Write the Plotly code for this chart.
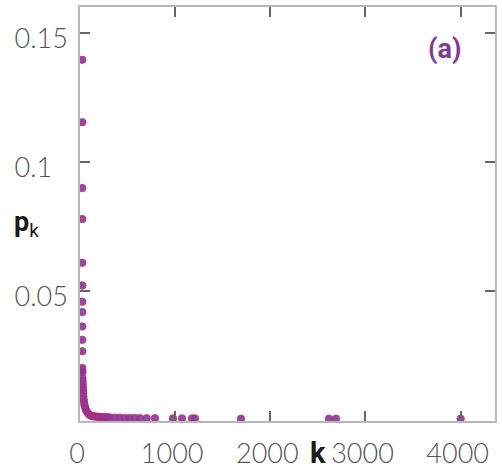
import plotly.graph_objects as go

# degree k and probability p_k
k_vals = [24, 24, 24, 24, 24, 24, 24, 24, 24, 24, 24,
          24, 24, 25, 26, 27, 28, 30, 32, 33, 35, 38, 42, 48, 56, 66, 80, 95,
          112, 130, 148, 166, 184, 202, 220, 238, 256, 274, 292,
          315, 368, 420, 473, 525, 578, 630, 701, 788,
          977, 1072, 1177, 1208, 1692, 2616, 2690, 4000]
p_vals = [0.1396, 0.1154, 0.0898, 0.0778, 0.0608, 0.0520, 0.0457, 0.0417, 0.0361, 0.0309, 0.0265,
          0.0200, 0.0191, 0.0183, 0.0160, 0.0148, 0.0137, 0.0125, 0.0113, 0.0102, 0.0090, 0.0078,
          0.0067, 0.0055, 0.0044, 0.0034, 0.0026, 0.0019,
          0.0015, 0.0013, 0.0012, 0.0011, 0.0010, 0.0010, 0.0009, 0.0009, 0.0009, 0.0008, 0.0008,
          0.0008, 0.0007, 0.0007, 0.0006, 0.0006, 0.0006, 0.0005, 0.0005, 0.0005,
          0.0004, 0.0004, 0.0004, 0.0004, 0.0003, 0.0003, 0.0003, 0.0003]

x_tickvals = [0, 1000, 2000, 3000, 4000]
x_ticktext = ["0", "1000", "2000", "3000", "4000"]
y_tickvals = [0.05, 0.1, 0.15]
y_ticktext = ["0.05", "0.1\u2007", "0.15"]

x_range = [0, 4361]
y_range = [-0.0006, 0.1601]

purple = "#7f3c97"
tick_font = dict(family="Lato", size=27, color="#555555", weight=300)

fig = go.Figure()
fig.add_trace(go.Scatter(
    x=k_vals, y=p_vals, mode="markers",
    marker=dict(size=7.5, color="#893c9b", opacity=0.92,
                line=dict(color="#c0246e", width=0.8)),
    showlegend=False, hoverinfo="x+y",
))

axis_common = dict(
    showline=True, linecolor="#b8b8b8", linewidth=1.5, mirror="allticks",
    ticks="inside", ticklen=10, tickwidth=1.5, tickcolor="#666666",
    showgrid=False, zeroline=False, tickfont=tick_font, automargin=False,
)

fig.update_xaxes(range=x_range, tickvals=x_tickvals, ticktext=x_ticktext,
                 ticklabelstandoff=8, ticklabelshift=-3, **axis_common)
fig.update_yaxes(range=y_range, tickvals=y_tickvals, ticktext=y_ticktext,
                 ticklabelstandoff=5, ticklabelshift=6, **axis_common)

fig.add_annotation(text="<b>k</b>", xref="paper", yref="paper",
                   x=(318 - 80) / 415, y=-(453 - 420.7) / 413.7,
                   showarrow=False, xanchor="center", yanchor="middle",
                   font=dict(family="Roboto", size=29, color="#1a1a1a"))
fig.add_annotation(text="<b>p</b><sub>k</sub>", xref="paper", yref="paper",
                   x=-(80 - 26) / 415, y=(420.7 - 224) / 413.7,
                   showarrow=False, xanchor="center", yanchor="middle",
                   font=dict(family="Roboto", size=27, color="#1a1a1a"))
fig.add_annotation(text="<b>(a)</b>", xref="paper", yref="paper",
                   x=(444 - 80) / 415, y=(420.7 - 49) / 413.7,
                   showarrow=False, xanchor="center", yanchor="middle",
                   font=dict(family="Roboto", size=27, color=purple))

fig.update_layout(
    template="none",
    width=502, height=472,
    margin=dict(l=80, r=7, t=7, b=51, autoexpand=False),
    paper_bgcolor="white", plot_bgcolor="white",
)

fig.write_html("out.html", config={"displayModeBar": False},
               post_script="document.body.style.margin='0';document.body.style.overflow='hidden';")
